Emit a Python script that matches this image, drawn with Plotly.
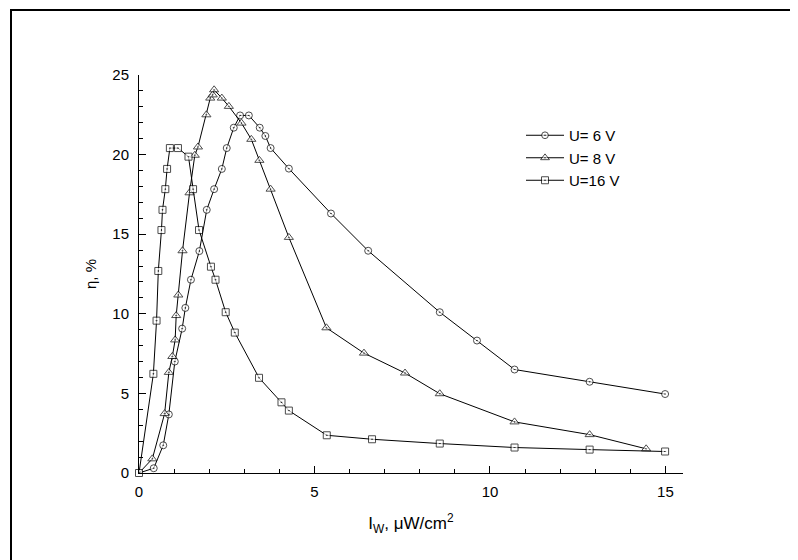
import plotly.graph_objects as go

# U = 6 V (circles)
x6 = [0, 0.42, 0.69, 0.85, 1.02, 1.23, 1.32, 1.48, 1.72, 1.93, 2.14, 2.36, 2.50, 2.70, 2.88, 3.13,
      3.44, 3.60, 3.75, 4.27, 5.47, 6.53, 8.57, 9.63, 10.70, 12.84, 14.99]
y6 = [0, 0.30, 1.74, 3.68, 7.00, 9.07, 10.37, 12.14, 13.94, 16.53, 17.83, 19.10, 20.41, 21.69, 22.46, 22.46,
      21.69, 21.17, 20.41, 19.12, 16.30, 13.96, 10.10, 8.32, 6.50, 5.73, 4.96]

# U = 8 V (triangles)
x8 = [0, 0.38, 0.73, 0.85, 0.95, 1.03, 1.06, 1.12, 1.24, 1.44, 1.59, 1.68, 1.92, 2.03, 2.10, 2.14,
      2.36, 2.56, 2.92, 3.20, 3.43, 3.75, 4.27, 5.34, 6.41, 7.58, 8.57, 10.70, 12.84, 14.45]
y8 = [0, 0.89, 3.73, 6.32, 7.32, 8.36, 9.89, 11.18, 13.96, 17.60, 19.96, 20.48, 22.50, 23.55, 23.75, 24.07,
      23.55, 23.03, 21.98, 20.96, 19.64, 17.83, 14.80, 9.12, 7.53, 6.28, 4.98, 3.21, 2.41, 1.52]

# U = 16 V (squares)
x16 = [0, 0.41, 0.50, 0.55, 0.64, 0.67, 0.75, 0.80, 0.88, 1.11, 1.41, 1.54, 1.71, 2.05, 2.18, 2.47,
       2.73, 3.42, 4.06, 4.27, 5.35, 6.64, 8.57, 10.70, 12.84, 14.99]
y16 = [0, 6.23, 9.57, 12.69, 15.26, 16.53, 17.83, 19.10, 20.41, 20.41, 19.87, 17.83, 15.26, 12.96, 12.14, 10.10,
       8.82, 5.98, 4.44, 3.92, 2.37, 2.12, 1.85, 1.60, 1.47, 1.35]

names = ["U= 6 V", "U= 8 V", "U=16 V"]
x_ticks = [0, 5, 10, 15]
y_ticks = [0, 5, 10, 15, 20, 25]

FONT = "Liberation Sans, Arial, sans-serif"

fig = go.Figure()

def add(xs, ys, name, symbol, size, hide_first):
    sizes = [size] * len(xs)
    if hide_first:
        sizes[0] = 0
    fig.add_trace(go.Scatter(
        x=xs, y=ys, name=name, mode="lines+markers",
        line=dict(color="black", width=1),
        marker=dict(symbol=symbol, size=sizes, color="white",
                    line=dict(color="black", width=1)),
        cliponaxis=False,
    ))

add(x6, y6, names[0], "circle-dot", 7, True)
add(x8, y8, names[1], "triangle-up-dot", 8, True)
add(x16, y16, names[2], "square-dot", 7, False)

# page is shown with an 8px body offset: figure coords = screen coords - 8
OFF = 8
L, R, T, B = 139 - OFF, 683 - OFF, 75 - OFF, 473 - OFF
W, H = 798, 560
pw, ph = R - L, B - T

def px(xp):
    return (xp - L) / pw

def py(yp):
    return (B - yp) / ph

shapes = [
    dict(type="rect", xref="paper", yref="paper", x0=px(11 - OFF), x1=px(W - 3),
         y0=py(10 - OFF), y1=py(H - 3), line=dict(color="black", width=2), fillcolor="rgba(0,0,0,0)"),
]

fig.update_layout(
    width=W, height=H,
    margin=dict(l=L, r=W - R, t=T, b=H - B, autoexpand=False),
    paper_bgcolor="white", plot_bgcolor="white",
    font=dict(family=FONT, size=15, color="black"),
    shapes=shapes,
    showlegend=True,
    legend=dict(x=px(521 - OFF), y=py(119 - OFF), xanchor="left", yanchor="top",
                bgcolor="rgba(0,0,0,0)", font=dict(size=15), tracegroupgap=0,
                itemwidth=38),
    xaxis=dict(range=[0, 15.5], tickvals=x_ticks, ticktext=[str(v) for v in x_ticks],
               ticks="inside", ticklen=7, tickwidth=1, tickcolor="black",
               minor=dict(dtick=1, ticks="inside", ticklen=4, tickwidth=1, tickcolor="black"),
               showline=True, linecolor="black", linewidth=1, showgrid=False, zeroline=False,
               mirror=False, ticklabelstandoff=5, automargin=False,
               title=dict(text="I<sub>W</sub>, μW/cm<sup>2</sup>", font=dict(size=17), standoff=18)),
    yaxis=dict(range=[0, 25], tickvals=y_ticks, ticktext=[str(v) for v in y_ticks],
               ticks="inside", ticklen=7, tickwidth=1, tickcolor="black",
               minor=dict(dtick=1, ticks="inside", ticklen=4, tickwidth=1, tickcolor="black"),
               showline=True, linecolor="black", linewidth=1, showgrid=False, zeroline=False,
               mirror=False, ticklabelstandoff=6, automargin=False,
               title=dict(text="η, %", font=dict(size=15), standoff=12)),
)

fig.write_html("out.html")
